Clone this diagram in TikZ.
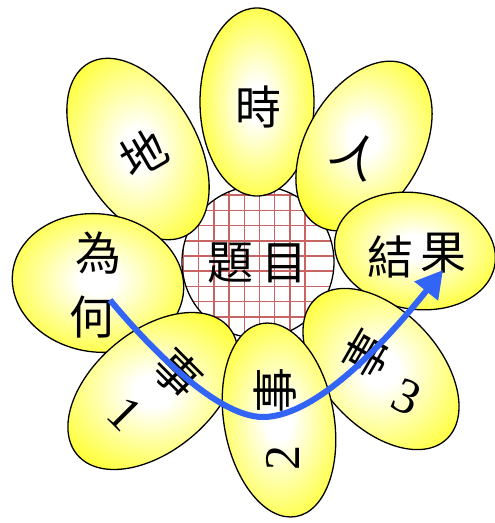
\documentclass[tikz,border=0pt]{standalone}
\usepackage{fontspec}
\setmainfont{Liberation Serif}
\newfontfamily\cjkfont{Noto Sans CJK TC}
\usepackage{xcolor}
\usetikzlibrary{positioning, shapes.geometric, arrows.meta, calc}

\definecolor{arrowblue}{RGB}{50,100,245}
\definecolor{gridred}{RGB}{200,100,100}
\definecolor{petalyellow}{RGB}{255,255,0}
\pgfdeclareradialshading{petalglow}{\pgfpoint{0bp}{0bp}}{color(0bp)=(white); color(5bp)=(white); color(34bp)=(petalyellow); color(50bp)=(petalyellow)}

\begin{document}
\begin{tikzpicture}[
		x=1pt, y=-1pt,
		% --- ESTILOS ---
		petal/.style={
			ellipse, draw=black, line width=1.3pt, shade, shading=petalglow, inner sep=0pt
		},
		hub/.style={
			circle, draw=black, line width=1.3pt, inner sep=0pt, minimum size=152pt
		},
		hanzi/.style={
			font=\cjkfont\fontsize{46}{50}\selectfont, inner sep=0pt
		},
		digit/.style={
			font=\fontsize{50}{54}\selectfont, inner sep=0pt
		},
		gridline/.style={
			draw=gridred, line width=1.5pt
		},
		flow/.style={
			draw=arrowblue, line width=6pt, -{Triangle[length=27pt, width=29pt]}
		}
		]
		\useasboundingbox (0,0) rectangle (495,523);
		
		% ==========================================
		% 1. Centro con cuadricula
		% ==========================================
		\fill [white] (258,262) circle [radius=76pt];
		\begin{scope}
			\clip (258,262) circle [radius=76pt];
			\foreach \k in {-2,...,9} {
				\draw [gridline] (168.3+15.2*\k, 180) -- (168.3+15.2*\k, 345);
				\draw [gridline] (175, 180+15.2*\k) -- (345, 180+15.2*\k);
			}
		\end{scope}
		\node [hub] (center_topic) at (258,262) {};
		
		% ==========================================
		% 2. Petalos (orden de dibujo = superposicion)
		% ==========================================
		\node [petal, minimum width=118pt, minimum height=198pt, rotate=30] (petal_di) at (138,149) {};
		\node [petal, minimum width=114pt, minimum height=188pt] (petal_shi) at (257,102) {};
		\node [petal, minimum width=116pt, minimum height=184pt, rotate=-30] (petal_ren) at (364,146) {};
		\node [petal, minimum width=162pt, minimum height=116pt, rotate=-10] (petal_result) at (415,251) {};
		\node [petal, minimum width=172pt, minimum height=138pt, rotate=-8] (petal_why) at (98,283) {};
		\node [petal, minimum width=116pt, minimum height=192pt, rotate=43] (petal_ev3) at (381,369) {};
		\node [petal, minimum width=120pt, minimum height=198pt, rotate=-50] (petal_ev1) at (153,391) {};
		\node [petal, minimum width=110pt, minimum height=196pt, rotate=10] (petal_ev2) at (279,420) {};
		
		% ==========================================
		% 3. Textos
		% ==========================================
		\node [hanzi] (lbl_topic1) at (230,263) {題};
		\node [hanzi, right=8pt of lbl_topic1] (lbl_topic2) {目};
		
		\node [hanzi] (lbl_shi) at (258,107) {時};
		\node [hanzi, rotate=30] (lbl_di) at (143,153) {地};
		\node [hanzi, rotate=-30] (lbl_ren) at (357,155) {人};
		
		\node [hanzi] (lbl_why1) at (98,253) {為};
		\node [hanzi] (lbl_why2) at (93,317) {何};
		
		\node [hanzi] (lbl_result1) at (390,257) {結};
		\node [hanzi] (lbl_result2) at (443,253) {果};
		
		\node [hanzi, rotate=-45] (lbl_ev1a) at (178,373) {事};
		\node [digit, rotate=-45] (lbl_ev1b) at (125,414) {1};
		\node [hanzi, rotate=90] (lbl_ev2a) at (275,390) {事};
		\node [digit, rotate=90] (lbl_ev2b) at (283,458) {2};
		\node [hanzi, rotate=60] (lbl_ev3a) at (367,354) {事};
		\node [digit, rotate=-25] (lbl_ev3b) at (407,397) {3};
		
		% ==========================================
		% 4. Flecha de recorrido
		% ==========================================
		\coordinate (flow_start) at (110,300);
		\coordinate (flow_low) at (263,417);
		\coordinate (flow_end) at (443,270);
		\draw [flow] (flow_start) .. controls (145,342) and (215,417) .. (flow_low)
		.. controls (320,417) and (395,330) .. (flow_end);
		
\end{tikzpicture}
\end{document}
